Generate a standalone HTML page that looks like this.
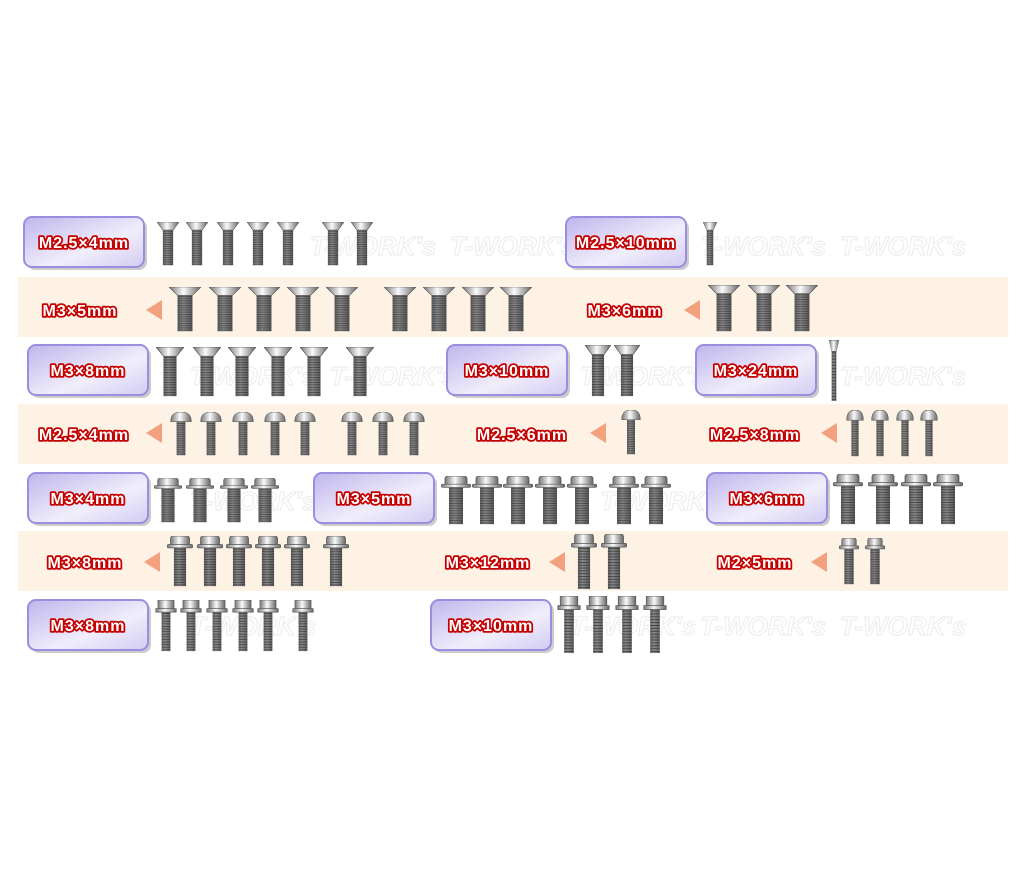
<!DOCTYPE html>
<html><head><meta charset="utf-8"><style>
html,body{margin:0;padding:0;background:#fff}
svg{display:block}
.t{font-family:"Liberation Sans",sans-serif;font-weight:bold;font-size:16px;fill:#fff;stroke:#c40000;stroke-width:3.5px;paint-order:stroke;stroke-linejoin:round;letter-spacing:1px}
.w{font-family:"Liberation Sans",sans-serif;font-weight:bold;font-style:italic;font-size:26px;fill:none;stroke:#eeeeee;stroke-width:1.2px}
</style></head><body>
<svg width="1024" height="874" viewBox="0 0 1024 874" xmlns="http://www.w3.org/2000/svg">
<defs>
<linearGradient id="sv" x1="0" x2="1" y1="0" y2="0"><stop offset="0" stop-color="#777"/><stop offset=".45" stop-color="#fafafa"/><stop offset="1" stop-color="#666"/></linearGradient>
<linearGradient id="sh" x1="0" x2="1" y1="0" y2="0"><stop offset="0" stop-color="#2a2a2a"/><stop offset=".45" stop-color="#8a8a8a"/><stop offset="1" stop-color="#2a2a2a"/></linearGradient>
<pattern id="th" width="30" height="3" patternUnits="userSpaceOnUse"><rect width="30" height="3" fill="url(#sh)"/><rect width="30" height="1" fill="#222" opacity=".6"/></pattern>
<linearGradient id="bx" x1="0" x2="1" y1="0" y2="1"><stop offset="0" stop-color="#bfb5ec"/><stop offset=".6" stop-color="#f1eefb"/><stop offset="1" stop-color="#d2cbf2"/></linearGradient>
<symbol id="f" viewBox="0 0 30 60" preserveAspectRatio="none"><rect x="8" y="10" width="14" height="49" fill="url(#th)"/><polygon points="0,0 30,0 22,11 8,11" fill="url(#sv)" stroke="#555" stroke-width=".8"/></symbol>
<symbol id="b" viewBox="0 0 30 60" preserveAspectRatio="none"><rect x="9" y="12" width="12" height="47" fill="url(#th)"/><path d="M1,13 Q1,0 15,0 Q29,0 29,13 Z" fill="url(#sv)" stroke="#555" stroke-width=".8"/></symbol>
<symbol id="g" viewBox="0 0 30 60" preserveAspectRatio="none"><rect x="8" y="13" width="14" height="46" fill="url(#th)"/><rect x="4" y="0" width="22" height="12" rx="3" fill="url(#sv)" stroke="#555" stroke-width=".8"/><rect x="0" y="10" width="30" height="4" rx="2" fill="url(#sv)" stroke="#555" stroke-width=".8"/></symbol>
<symbol id="h" viewBox="0 0 30 60" preserveAspectRatio="none"><rect x="9" y="13" width="12" height="46" fill="url(#th)"/><rect x="4" y="0" width="22" height="12" fill="url(#sv)" stroke="#555" stroke-width=".8"/><rect x="1" y="10" width="28" height="4" fill="url(#sv)" stroke="#555" stroke-width=".8"/></symbol>
<g id="bxs"><rect x="3" y="3" width="120" height="50" rx="8" fill="#ccc"/><rect x="0" y="0" width="120" height="50" rx="8" fill="url(#bx)" stroke="#9a8ee0" stroke-width="2"/></g>
</defs>

<rect x="18" y="277" width="990" height="60" fill="#fdf2e4"/>
<rect x="18" y="404" width="990" height="60" fill="#fdf2e4"/>
<rect x="18" y="531" width="990" height="60" fill="#fdf2e4"/>

<g class="w">
<text x="310" y="255">T-WORK's</text><text x="450" y="255">T-WORK's</text><text x="700" y="255">T-WORK's</text><text x="840" y="255">T-WORK's</text>
<text x="190" y="385">T-WORK's</text><text x="330" y="385">T-WORK's</text><text x="580" y="385">T-WORK's</text><text x="840" y="385">T-WORK's</text>
<text x="190" y="510">T-WORK's</text><text x="600" y="510">T-WORK's</text>
<text x="190" y="635">T-WORK's</text><text x="570" y="635">T-WORK's</text><text x="700" y="635">T-WORK's</text><text x="840" y="635">T-WORK's</text>
</g>

<use href="#bxs" x="24" y="217"/><use href="#bxs" x="566" y="217"/>
<use href="#bxs" x="28" y="345"/><use href="#bxs" x="447" y="345"/><use href="#bxs" x="696" y="345"/>
<use href="#bxs" x="28" y="473"/><use href="#bxs" x="314" y="473"/><use href="#bxs" x="707" y="473"/>
<use href="#bxs" x="28" y="600"/><use href="#bxs" x="431" y="600"/>

<g fill="#f2a07e">
<polygon points="146,310 162,300 162,320"/>
<polygon points="684,310 700,300 700,320"/>
<polygon points="146,433 162,423 162,443"/>
<polygon points="590,433 606,423 606,443"/>
<polygon points="821,433 837,423 837,443"/>
<polygon points="144,562 160,552 160,572"/>
<polygon points="549,562 565,552 565,572"/>
<polygon points="811,562 827,552 827,572"/>
</g>

<g class="t" text-anchor="middle">
<text x="84" y="248">M2.5×4mm</text><text x="626" y="248">M2.5×10mm</text>
<text x="80" y="316">M3×5mm</text><text x="625" y="316">M3×6mm</text>
<text x="88" y="376">M3×8mm</text><text x="507" y="376">M3×10mm</text><text x="756" y="376">M3×24mm</text>
<text x="84" y="440">M2.5×4mm</text><text x="522" y="440">M2.5×6mm</text><text x="755" y="440">M2.5×8mm</text>
<text x="88" y="504">M3×4mm</text><text x="374" y="504">M3×5mm</text><text x="767" y="504">M3×6mm</text>
<text x="85" y="568">M3×8mm</text><text x="488" y="568">M3×12mm</text><text x="755" y="568">M2×5mm</text>
<text x="88" y="631">M3×8mm</text><text x="491" y="631">M3×10mm</text>
</g>

<use href="#f" x="157" y="222" width="22" height="44"/><use href="#f" x="186" y="222" width="22" height="44"/><use href="#f" x="217" y="222" width="22" height="44"/><use href="#f" x="247" y="222" width="22" height="44"/><use href="#f" x="277" y="222" width="22" height="44"/><use href="#f" x="322" y="222" width="22" height="44"/><use href="#f" x="351" y="222" width="22" height="44"/>
<use href="#f" x="703" y="222" width="14" height="44"/>
<use href="#f" x="169" y="287" width="32" height="45"/><use href="#f" x="209" y="287" width="32" height="45"/><use href="#f" x="248" y="287" width="32" height="45"/><use href="#f" x="287" y="287" width="32" height="45"/><use href="#f" x="326" y="287" width="32" height="45"/><use href="#f" x="384" y="287" width="32" height="45"/><use href="#f" x="423" y="287" width="32" height="45"/><use href="#f" x="462" y="287" width="32" height="45"/><use href="#f" x="500" y="287" width="32" height="45"/>
<use href="#f" x="708" y="285" width="32" height="47"/><use href="#f" x="748" y="285" width="32" height="47"/><use href="#f" x="786" y="285" width="32" height="47"/>
<use href="#f" x="156" y="347" width="28" height="50"/><use href="#f" x="193" y="347" width="28" height="50"/><use href="#f" x="228" y="347" width="28" height="50"/><use href="#f" x="264" y="347" width="28" height="50"/><use href="#f" x="300" y="347" width="28" height="50"/><use href="#f" x="346" y="347" width="28" height="50"/>
<use href="#f" x="585" y="345" width="26" height="52"/><use href="#f" x="614" y="345" width="26" height="52"/>
<use href="#f" x="829" y="340" width="10" height="62"/>
<use href="#b" x="170" y="412" width="22" height="44"/><use href="#b" x="200" y="412" width="22" height="44"/><use href="#b" x="232" y="412" width="22" height="44"/><use href="#b" x="264" y="412" width="22" height="44"/><use href="#b" x="294" y="412" width="22" height="44"/><use href="#b" x="341" y="412" width="22" height="44"/><use href="#b" x="372" y="412" width="22" height="44"/><use href="#b" x="403" y="412" width="22" height="44"/>
<use href="#b" x="621" y="410" width="20" height="45"/>
<use href="#b" x="846" y="410" width="18" height="47"/><use href="#b" x="871" y="410" width="18" height="47"/><use href="#b" x="896" y="410" width="18" height="47"/><use href="#b" x="920" y="410" width="18" height="47"/>
<use href="#g" x="154" y="478" width="28" height="45"/><use href="#g" x="186" y="478" width="28" height="45"/><use href="#g" x="220" y="478" width="28" height="45"/><use href="#g" x="251" y="478" width="28" height="45"/>
<use href="#g" x="441" y="476" width="30" height="49"/><use href="#g" x="472" y="476" width="30" height="49"/><use href="#g" x="503" y="476" width="30" height="49"/><use href="#g" x="535" y="476" width="30" height="49"/><use href="#g" x="567" y="476" width="30" height="49"/><use href="#g" x="609" y="476" width="30" height="49"/><use href="#g" x="641" y="476" width="30" height="49"/>
<use href="#g" x="833" y="474" width="30" height="51"/><use href="#g" x="868" y="474" width="30" height="51"/><use href="#g" x="901" y="474" width="30" height="51"/><use href="#g" x="933" y="474" width="30" height="51"/>
<use href="#g" x="167" y="536" width="26" height="51"/><use href="#g" x="197" y="536" width="26" height="51"/><use href="#g" x="226" y="536" width="26" height="51"/><use href="#g" x="255" y="536" width="26" height="51"/><use href="#g" x="284" y="536" width="26" height="51"/><use href="#g" x="323" y="536" width="26" height="51"/>
<use href="#g" x="571" y="534" width="26" height="56"/><use href="#g" x="601" y="534" width="26" height="56"/>
<use href="#g" x="839" y="538" width="20" height="47"/><use href="#g" x="865" y="538" width="20" height="47"/>
<use href="#h" x="155" y="600" width="22" height="52"/><use href="#h" x="180" y="600" width="22" height="52"/><use href="#h" x="206" y="600" width="22" height="52"/><use href="#h" x="232" y="600" width="22" height="52"/><use href="#h" x="257" y="600" width="22" height="52"/><use href="#h" x="292" y="600" width="22" height="52"/>
<use href="#h" x="557" y="596" width="24" height="58"/><use href="#h" x="586" y="596" width="24" height="58"/><use href="#h" x="615" y="596" width="24" height="58"/><use href="#h" x="643" y="596" width="24" height="58"/>
</svg>
</body></html>
